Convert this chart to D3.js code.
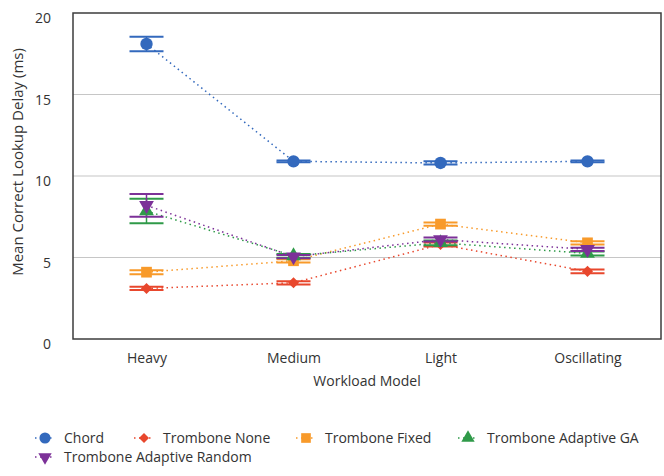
<!DOCTYPE html>
<html>
<head>
<meta charset="utf-8">
<script src="https://cdn.jsdelivr.net/npm/d3@7"></script>
<style>
  body { margin: 0; background: #fff; }
  text { font-family: "Open Sans", sans-serif; fill: #333; }
</style>
</head>
<body>
<svg id="chart" width="664" height="476"></svg>
<script>
// categories and ticks
var workloads = ["Heavy", "Medium", "Light", "Oscillating"];
var yTicks = [0, 5, 10, 15, 20];

// series means and error half-widths, one value per workload
var chordMean = [18.1, 10.9, 10.8, 10.9];
var chordErr = [0.45, 0.05, 0.1, 0.05];
var noneMean = [3.1, 3.45, 5.8, 4.15];
var noneErr = [0.1, 0.1, 0.12, 0.12];
var fixedMean = [4.1, 4.8, 7.05, 5.9];
var fixedErr = [0.12, 0.1, 0.1, 0.1];
var gaMean = [7.85, 5.1, 5.9, 5.25];
var gaErr = [0.75, 0.12, 0.15, 0.12];
var randomMean = [8.2, 5.05, 6.1, 5.5];
var randomErr = [0.7, 0.1, 0.12, 0.1];

var seriesNames = ["Chord", "Trombone None", "Trombone Fixed", "Trombone Adaptive GA", "Trombone Adaptive Random"];

var series = [
  {name: seriesNames[0], mean: chordMean, err: chordErr, color: "#3369bd", shape: "circle"},
  {name: seriesNames[1], mean: noneMean, err: noneErr, color: "#e8472d", shape: "diamond"},
  {name: seriesNames[2], mean: fixedMean, err: fixedErr, color: "#f89a2a", shape: "square"},
  {name: seriesNames[3], mean: gaMean, err: gaErr, color: "#2f9a49", shape: "triangleUp"},
  {name: seriesNames[4], mean: randomMean, err: randomErr, color: "#7c3198", shape: "triangleDown"}
];

var svg = d3.select("#chart");
var margin = {top: 13, right: 3, bottom: 137, left: 73};
var width = 664, height = 476;
var plotW = width - margin.left - margin.right;
var plotH = height - margin.top - margin.bottom;

var x = d3.scalePoint()
          .domain(workloads)
          .range([margin.left, margin.left + plotW])
          .padding(0.5);

var y = d3.scaleLinear()
          .domain([0, 20])
          .range([margin.top + plotH, margin.top]);

// gridlines
svg.append("g")
    .selectAll("line")
    .data(yTicks.filter(d => d > 0 && d < 20))
    .enter()
    .append("line")
      .attr("x1", margin.left)
      .attr("x2", margin.left + plotW)
      .attr("y1", d => y(d))
      .attr("y2", d => y(d))
      .attr("stroke", "#c6c6c6")
      .attr("stroke-width", 1.2);

// y axis labels
var yAxis = d3.axisLeft(y).tickValues(yTicks).tickSize(0).tickPadding(22);
svg.append("g")
    .attr("transform", "translate(" + margin.left + ",0)")
    .call(yAxis)
    .call(g => g.select(".domain").remove())
    .selectAll("text")
      .attr("dy", "0.7em")
      .style("font-size", "14px")
      .style("font-family", "'Open Sans', sans-serif")
      .attr("fill", "#383838");

// x axis labels
var xAxis = d3.axisBottom(x).tickSize(0).tickPadding(14);
svg.append("g")
    .attr("transform", "translate(0," + (margin.top + plotH) + ")")
    .call(xAxis)
    .call(g => g.select(".domain").remove())
    .selectAll("text")
      .style("font-size", "14px")
      .style("font-family", "'Open Sans', sans-serif")
      .attr("fill", "#383838");

// frame
svg.append("rect")
    .attr("x", margin.left)
    .attr("y", margin.top)
    .attr("width", plotW)
    .attr("height", plotH)
    .attr("fill", "none")
    .attr("stroke", "#3c3c3c")
    .attr("stroke-width", 1.5);

// axis titles
svg.append("text")
    .attr("transform", "rotate(-90)")
    .attr("x", -162)
    .attr("y", 18)
    .attr("dy", "0.35em")
    .style("text-anchor", "middle")
    .style("font-size", "15px")
    .text("Mean Correct Lookup Delay (ms)");

svg.append("text")
    .attr("x", 367)
    .attr("y", 381)
    .attr("dy", "0.35em")
    .style("text-anchor", "middle")
    .style("font-size", "14px")
    .text("Workload Model");

var symbols = {
  circle: d3.symbol().type(d3.symbolCircle).size(120),
  diamond: d3.symbol().type(d3.symbolSquare).size(62),
  square: d3.symbol().type(d3.symbolSquare).size(115),
  triangleUp: d3.symbol().type(d3.symbolTriangle).size(95),
  triangleDown: d3.symbol().type(d3.symbolTriangle).size(95)
};

function drawSymbol(g, s, cx, cy, scale) {
  var rot = s.shape === "triangleDown" ? " rotate(180)" : s.shape === "diamond" ? " rotate(45)" : "";
  g.append("path")
    .attr("d", symbols[s.shape]())
    .attr("transform", "translate(" + cx + "," + cy + ")" + rot + " scale(" + (scale || 1) + ")")
    .attr("fill", s.color);
}

var line = d3.line()
             .x((d, i) => x(workloads[i]))
             .y(d => y(d));

var capHalf = 17;

series.forEach(function(s) {
  var g = svg.append("g");
  // dotted connecting line
  g.append("path")
    .attr("d", line(s.mean))
    .attr("fill", "none")
    .attr("stroke", s.color)
    .attr("stroke-width", 1.5)
    .attr("stroke-dasharray", "1.5,3.5");

  // error bars
  s.mean.forEach(function(m, i) {
    var cx = x(workloads[i]);
    var lo = y(m - s.err[i]), hi = y(m + s.err[i]);
    g.append("line")
      .attr("x1", cx).attr("x2", cx)
      .attr("y1", lo).attr("y2", hi)
      .attr("stroke", s.color).attr("stroke-width", 1.5);
    [lo, hi].forEach(function(yy) {
      g.append("line")
        .attr("x1", cx - capHalf).attr("x2", cx + capHalf)
        .attr("y1", yy).attr("y2", yy)
        .attr("stroke", s.color).attr("stroke-width", 2);
    });
  });
});

// markers on top
series.forEach(function(s) {
  var g = svg.append("g");
  s.mean.forEach(function(m, i) {
    drawSymbol(g, s, x(workloads[i]), y(m));
  });
});

// legend
var legendPos = [
  {x: 45, y: 438}, {x: 144, y: 438}, {x: 306, y: 438}, {x: 468, y: 438}, {x: 45, y: 457}
];
var legend = svg.append("g");
series.forEach(function(s, i) {
  var p = legendPos[i];
  var g = legend.append("g");
  g.append("line")
    .attr("x1", p.x - 10).attr("x2", p.x + 10)
    .attr("y1", p.y).attr("y2", p.y)
    .attr("stroke", s.color)
    .attr("stroke-width", 1.5)
    .attr("stroke-dasharray", "1.5,3.5");
  drawSymbol(g, s, p.x, p.y, 0.9);
  g.append("text")
    .attr("x", p.x + 19)
    .attr("y", p.y)
    .attr("dy", "0.35em")
    .style("font-size", "14px")
    .text(s.name);
});
</script>
</body>
</html>
